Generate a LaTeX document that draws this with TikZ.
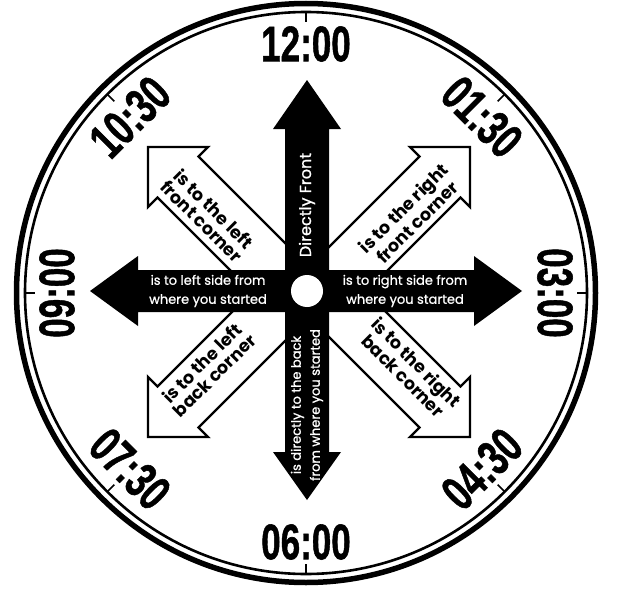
\documentclass[tikz,border=0pt]{standalone}
\usepackage{fontspec}
\setmainfont{Poppins}
\newfontfamily\pmed[FakeBold=0.9]{Poppins}
\newfontfamily\clockfont[FakeBold=1.2]{Liberation Sans}
\usetikzlibrary{calc}
\begin{document}
\begin{tikzpicture}[x=1pt,y=-1pt,
  blackarrow/.style={fill=black,draw=none},
  whitearrow/.style={fill=white,draw=black,line width=2.4pt,line join=miter},
  clocklabel/.style={font=\clockfont\bfseries\fontsize{50}{50}\selectfont,inner sep=0pt},
  wtext/.style={text=white,font=\pmed\fontsize{13}{19}\selectfont,align=center,inner sep=0pt},
  btext/.style={text=black,font=\bfseries\fontsize{17.5}{17.5}\selectfont,align=center,inner sep=0pt},
  tickline/.style={line width=1.6pt}]
\useasboundingbox (0,0) rectangle (622,589);
\coordinate (C) at (306,293);
% clock rim
\draw[line width=5.5pt] (C) circle[radius=289.5];
\draw[line width=2.6pt] (C) circle[radius=281];
\foreach \a in {0,45,...,315}
  \draw[tickline] ($(C)+(\a:281)$) -- ($(C)+(\a:271)$);
% hour labels
\node[clocklabel] (l12) at (306,44) {\scalebox{.7}[1]{12:00}};
\node[clocklabel,rotate=-45] (l0130) at (482,117) {\scalebox{.7}[1]{01:30}};
\node[clocklabel,rotate=-90] (l03) at (555,293) {\scalebox{.7}[1]{03:00}};
\node[clocklabel,rotate=45] (l0430) at (482,469) {\scalebox{.7}[1]{04:30}};
\node[clocklabel] (l06) at (306,542) {\scalebox{.7}[1]{06:00}};
\node[clocklabel,rotate=-45] (l0730) at (130,469) {\scalebox{.7}[1]{07:30}};
\node[clocklabel,rotate=90] (l09) at (57,293) {\scalebox{.7}[1]{09:00}};
\node[clocklabel,rotate=45] (l1030) at (130,117) {\scalebox{.7}[1]{10:30}};
% white diagonal arrows
\draw[whitearrow] (148,147) -- (208,147) -- (198.5,156.5) -- (305.5,263.5) -- (264.5,304.5) -- (157.5,197.5) -- (148,207) -- cycle;
\draw[whitearrow] (470,147) -- (410,147) -- (419.5,156.5) -- (312.5,263.5) -- (353.5,304.5) -- (460.5,197.5) -- (470,207) -- cycle;
\draw[whitearrow] (148,437) -- (208,437) -- (198.5,427.5) -- (305.5,320.5) -- (264.5,279.5) -- (157.5,386.5) -- (148,377) -- cycle;
\draw[whitearrow] (470,437) -- (410,437) -- (419.5,427.5) -- (312.5,320.5) -- (353.5,279.5) -- (460.5,386.5) -- (470,377) -- cycle;
% black arrows
\fill[blackarrow] (285,291) -- (285,129) -- (273,129) -- (307,80) -- (341,129) -- (329,129) -- (329,291) -- cycle;
\fill[blackarrow] (285,291) -- (285,452) -- (273,452) -- (307,500) -- (341,452) -- (329,452) -- (329,291) -- cycle;
\fill[blackarrow] (307,270) -- (138,270) -- (138,256) -- (90,291) -- (138,326) -- (138,312) -- (307,312) -- cycle;
\fill[blackarrow] (307,270) -- (474,270) -- (474,256) -- (522,291) -- (474,326) -- (474,312) -- (307,312) -- cycle;
\fill[white] (307,291) circle[radius=16];
% texts
\node[wtext,rotate=90,font=\pmed\fontsize{16}{19}\selectfont] (tf) at (307,205) {Directly Front};
\node[wtext,rotate=90] (tb) at (307,405) {is directly to the back\\from where you started};
\node[wtext] (tl) at (208,291) {is to left side from\\where you started};
\node[wtext] (tr) at (405,291) {is to right side from\\where you started};
\node[btext,rotate=-45] (dul) at (208,215) {is to the left\\front corner};
\node[btext,rotate=45] (dur) at (410,215) {is to the right\\front corner};
\node[btext,rotate=45] (dll) at (208,369) {is to the left\\back corner};
\node[btext,rotate=-45] (dlr) at (410,369) {is to the right\\back corner};
\end{tikzpicture}
\end{document}
